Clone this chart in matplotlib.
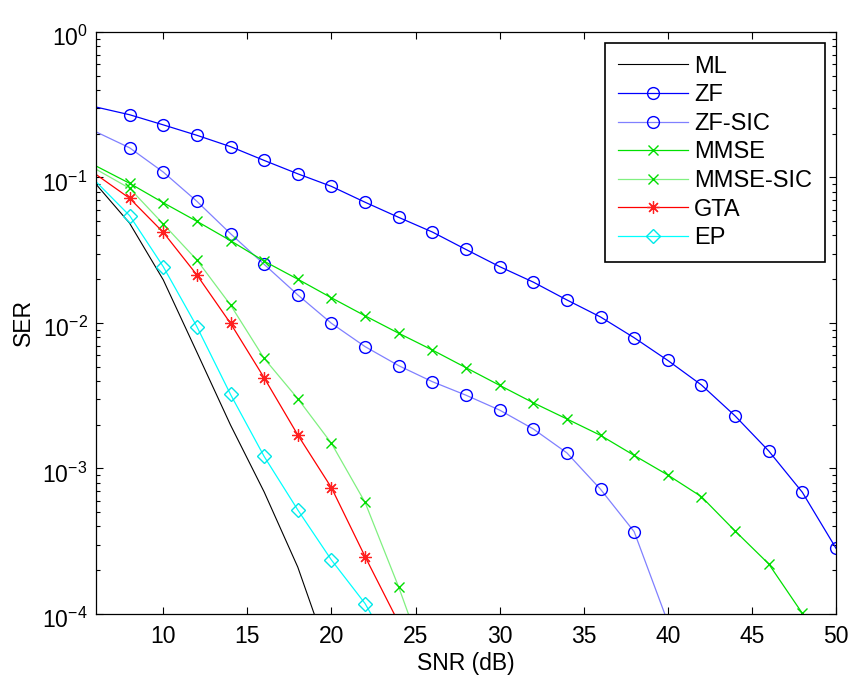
import numpy as np
import matplotlib
matplotlib.use("Agg")
from matplotlib import pyplot as plt
from matplotlib import transforms

plt.rcParams['font.family'] = ['Liberation Sans', 'DejaVu Sans']
plt.rcParams['mathtext.fontset'] = 'custom'
plt.rcParams['mathtext.rm'] = 'Liberation Sans'

# SNR grid (dB)
snr = [6, 8, 10, 12, 14, 16, 18, 20, 22, 24, 26, 28, 30, 32, 34, 36, 38, 40, 42, 44, 46, 48, 50]

# symbol error rates per detector
ser_ml = [0.09, 0.0485, 0.0198, 0.0063, 0.00199, 6.9e-4, 2.1e-4, 4.6e-5]
ser_zf = [0.305, 0.27, 0.23, 0.195, 0.163, 0.131, 0.106, 0.0869, 0.0676, 0.0532, 0.0422, 0.032,
          0.0244, 0.0191, 0.0144, 0.011, 0.00792, 0.00553, 0.00375, 0.0023, 0.00132, 6.86e-4, 2.83e-4]
ser_zf_sic = [0.206, 0.16, 0.109, 0.0686, 0.0411, 0.0253, 0.0156, 0.00995, 0.00688, 0.00509,
              0.00395, 0.00319, 0.00252, 0.00187, 0.00128, 7.2e-4, 3.68e-4, 8.8e-5]
ser_mmse = [0.12, 0.0912, 0.0671, 0.05, 0.0368, 0.0266, 0.02, 0.0149, 0.0112, 0.0085, 0.00652,
            0.00493, 0.00373, 0.00283, 0.00219, 0.00169, 0.00123, 9.02e-4, 6.4e-4, 3.72e-4,
            2.21e-4, 1.01e-4]
ser_mmse_sic = [0.114, 0.0843, 0.0479, 0.0271, 0.0133, 0.00571, 0.00302, 0.00149, 5.85e-4,
                1.53e-4, 3.5e-5]
ser_gta = [0.105, 0.072, 0.042, 0.0214, 0.00995, 0.0042, 0.0017, 7.38e-4, 2.48e-4, 8.7e-5]
ser_ep = [0.0936, 0.0547, 0.0244, 0.00944, 0.00323, 0.00121, 5.19e-4, 2.35e-4, 1.18e-4, 4.6e-5]

fig = plt.figure(figsize=(8.5, 6.75), dpi=100)
ax = fig.add_axes([0.1129, 0.0904, 0.8706, 0.8622])

lw = 0.9
mk = dict(markevery=slice(1, None))  # no marker on the first point (axis edge)
ax.semilogy(snr[:len(ser_ml)], ser_ml, color='k', lw=0.8, label='ML')
ax.semilogy(snr[:len(ser_zf)], ser_zf, color='#0000ff', lw=lw, marker='o', ms=8.5,
            mfc='none', mec='#0000ff', label='ZF', **mk)
ax.semilogy(snr[:len(ser_zf_sic)], ser_zf_sic, color='#8080ff', lw=lw, marker='o', ms=8.5,
            mfc='none', mec='#0000ff', label='ZF-SIC', **mk)
ax.semilogy(snr[:len(ser_mmse)], ser_mmse, color='#00e000', lw=lw, marker='x', ms=6.5,
            mec='#00dd00', label='MMSE', **mk)
ax.semilogy(snr[:len(ser_mmse_sic)], ser_mmse_sic, color='#80f080', lw=lw, marker='x', ms=6.5,
            mec='#00dd00', label='MMSE-SIC', **mk)
ax.semilogy(snr[:len(ser_gta)], ser_gta, color='#ff0000', lw=lw, marker=(8, 2, 0), ms=9,
            mec='#ff2020', mew=0.9, label='GTA', **mk)
ax.semilogy(snr[:len(ser_ep)], ser_ep, color='#00ffff', lw=lw, marker='D', ms=7,
            mfc='none', mec='#00e8e8', label='EP', **mk)

ax.set_xlim(6, 50)
ax.set_ylim(1e-4, 1)
ax.set_xticks([10, 15, 20, 25, 30, 35, 40, 45, 50])
ax.set_xlabel('SNR (dB)', fontsize=16.5, labelpad=3)
ax.set_ylabel('SER', fontsize=16.5, labelpad=5)
ax.tick_params(which='both', direction='in', top=True, right=True, labelsize=16.5)
ax.tick_params(axis='x', which='major', pad=8)
ax.tick_params(axis='y', which='major', pad=6)
ax.tick_params(which='major', length=5, width=0.8)
ax.tick_params(which='minor', length=3, width=0.8)
for s in ax.spines.values():
    s.set_linewidth(0.9)

# push the 10^n labels down so the base sits on the tick
shift = transforms.ScaledTranslation(0, -4 / 100, fig.dpi_scale_trans)
fig.canvas.draw()
for lab in ax.get_yticklabels():
    lab.set_transform(lab.get_transform() + shift)

leg = ax.legend(loc='upper right', fontsize=17, handlelength=3.0, labelspacing=0.28,
                borderpad=0.55, handletextpad=0.25, borderaxespad=0.45,
                fancybox=False, framealpha=1, edgecolor='k')
leg.get_frame().set_linewidth(1.2)

fig.savefig('out.png', dpi=100)
